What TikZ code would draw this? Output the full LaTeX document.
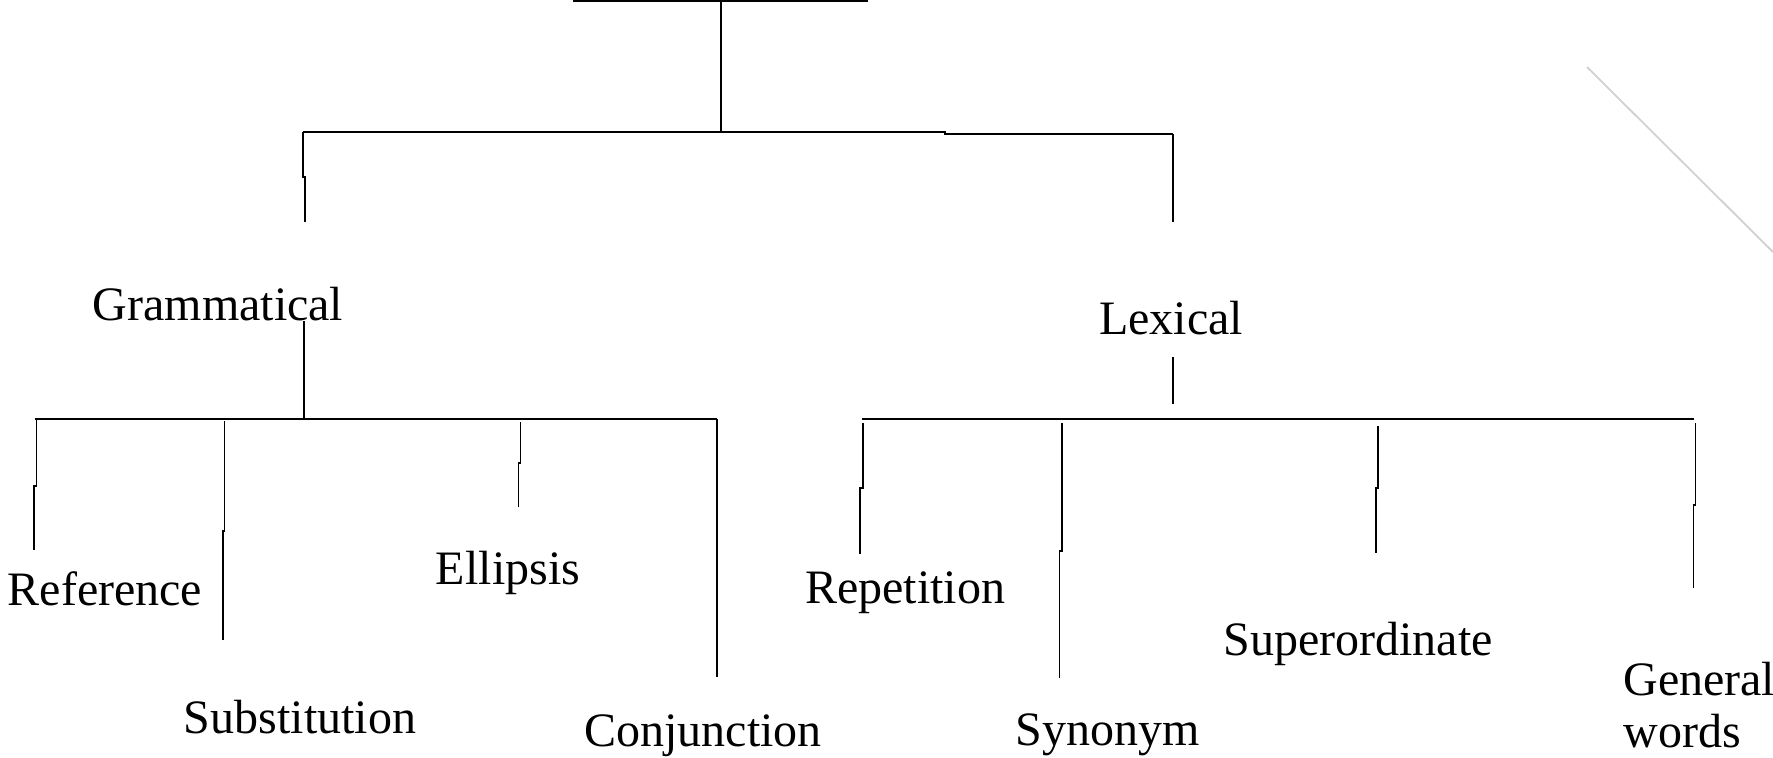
\documentclass[tikz,border=0pt]{standalone}
\usepackage{fontspec}
\setmainfont{Liberation Serif}
\begin{document}
\begin{tikzpicture}[x=0.5pt,y=-0.5pt,
  lbl/.style={inner sep=0pt,font=\fontsize{24}{26}\selectfont},
  hline/.style={line width=1pt,black},
  vline/.style={line width=0.8pt,black},
  faint/.style={line width=0.9pt,black!18}]
\useasboundingbox (0,0) rectangle (1773,757);
% text nodes
\node[lbl,anchor=base] (gram) at (218,320) {Grammatical};
\node[lbl,anchor=base] (lex) at (1171,334) {Lexical};
\node[lbl,anchor=base] (ref) at (105,605) {Reference};
\node[lbl,anchor=base] (sub) at (300,733) {Substitution};
\node[lbl,anchor=base] (ell) at (508,584) {Ellipsis};
\node[lbl,anchor=base] (conj) at (703,746) {Conjunction};
\node[lbl,anchor=base] (rep) at (905,603) {Repetition};
\node[lbl,anchor=base] (syn) at (1108,745) {Synonym};
\node[lbl,anchor=base] (sup) at (1358,655) {Superordinate};
\node[lbl,anchor=base west,align=left] (gen) at (1623,747) {General\\words};
% coordinates
\coordinate (topL) at (573,1);
\coordinate (topR) at (868,1);
\coordinate (rootA) at (721,0);
\coordinate (rootB) at (721,132);
\coordinate (l1L) at (303,131.5);
\coordinate (l1R) at (1173,134);
\coordinate (gramUp) at (305,222);
\coordinate (lexUp) at (1173,222);
\coordinate (gramDn) at (304,321);
\coordinate (gramBar) at (304,419);
\coordinate (lexDn) at (1173,357);
\coordinate (lexBar) at (1173,404);
\coordinate (barLL) at (35,419);
\coordinate (barLR) at (717,419);
\coordinate (barRL) at (862,419);
\coordinate (barRR) at (1694,419);
\coordinate (refT) at (36.5,420);  \coordinate (refB) at (34,550);
\coordinate (subT) at (224.5,421); \coordinate (subB) at (223,640);
\coordinate (ellT) at (520.5,422); \coordinate (ellB) at (518.5,507);
\coordinate (conjT) at (717,419);  \coordinate (conjB) at (717,677);
\coordinate (repT) at (862.7,423); \coordinate (repB) at (860.2,554);
\coordinate (synT) at (1062,423);  \coordinate (synB) at (1059.5,678);
\coordinate (supT) at (1378,426);  \coordinate (supB) at (1376,553);
\coordinate (genT) at (1695.5,423); \coordinate (genB) at (1693.5,588);
\coordinate (diagA) at (1587,67);
\coordinate (diagB) at (1773,252);
% top box edge and root
\draw[hline] (topL) -- (topR);
\draw[vline] (rootA) -- (rootB);
% level 1
\draw[hline] (l1L) -- (945,131.5) -- (945,134) -- (l1R);
\draw[vline] (l1L) -- (303,177) -- (305,177) -- (gramUp);
\draw[vline] (l1R) -- (lexUp);
% stems from the two categories
\draw[vline] (gramDn) -- (gramBar);
\draw[vline] (lexDn) -- (lexBar);
% level 2 bars
\draw[hline] (barLL) -- (barLR);
\draw[hline] (barRL) -- (barRR);
% leaves (grammatical)
\draw[vline] (refT) -- (36.5,486) -- (34,486) -- (refB);
\draw[vline] (subT) -- (224.5,531) -- (223,531) -- (subB);
\draw[vline] (ellT) -- (520.5,463) -- (518.5,463) -- (ellB);
\draw[vline] (conjT) -- (conjB);
% leaves (lexical)
\draw[vline] (repT) -- (862.7,488) -- (860.2,488) -- (repB);
\draw[vline] (synT) -- (1062,551) -- (1059.5,551) -- (synB);
\draw[vline] (supT) -- (1378,488) -- (1376,488) -- (supB);
\draw[vline] (genT) -- (1695.5,505) -- (1693.5,505) -- (genB);
% faint diagonal
\draw[faint] (diagA) -- (diagB);
\end{tikzpicture}
\end{document}
